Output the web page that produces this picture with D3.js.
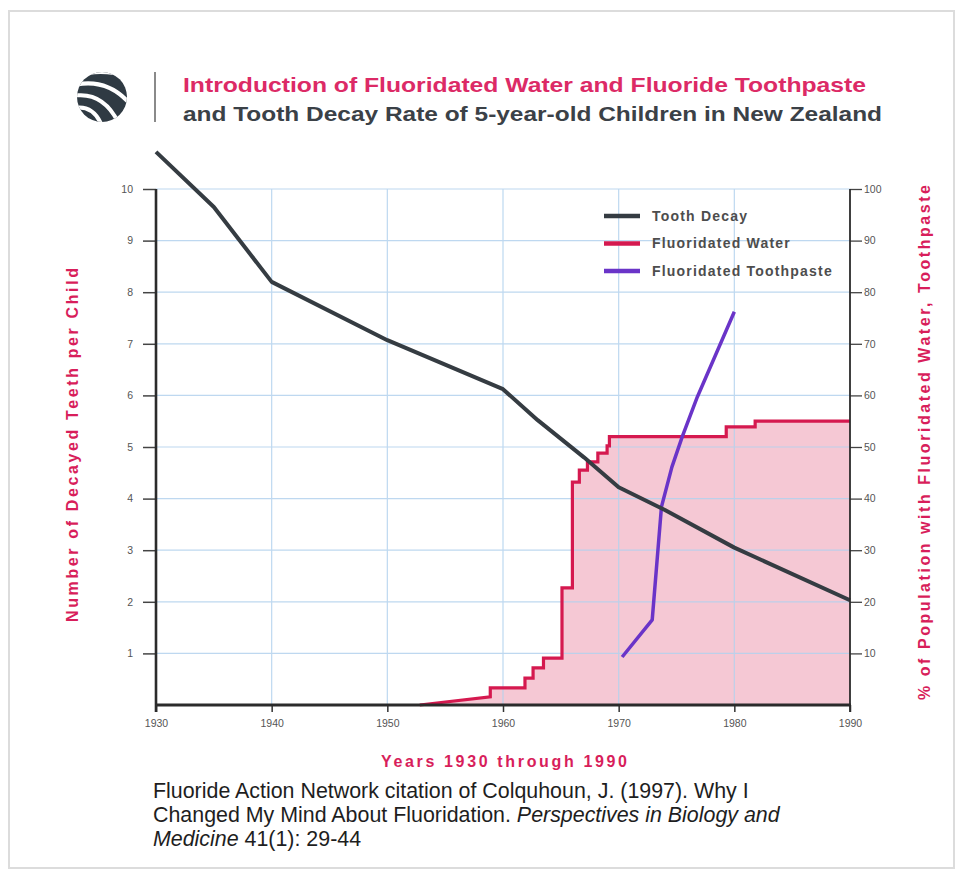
<!DOCTYPE html>
<html>
<head>
<meta charset="utf-8">
<script src="https://cdn.jsdelivr.net/npm/d3@7/dist/d3.min.js"></script>
<style>
  html, body { margin: 0; padding: 0; background: #fff; }
  svg { display: block; font-family: "Liberation Sans", Arial, Helvetica, sans-serif; }
</style>
</head>
<body>
<svg id="chart" width="963" height="876"></svg>
<script>
// ---- data ----
const decayYears = [1930, 1935, 1940, 1950, 1960, 1963, 1967, 1970, 1974, 1980, 1990];
const decayTeeth = [10.72, 9.65, 8.2, 7.07, 6.12, 5.52, 4.8, 4.22, 3.78, 3.05, 2.03];

// early gradual rise of fluoridated water coverage (percent)
const waterRampYears = [1952.8, 1958.9];
const waterRampPct = [0, 1.6];
// later step changes: year of the change and the new coverage (percent)
const waterStepYears = [1958.9, 1961.9, 1962.6, 1963.5, 1965.1, 1966.0, 1966.6, 1967.3, 1968.2, 1969.0, 1969.2, 1979.3, 1981.8];
const waterStepPct = [3.3, 5.2, 7.2, 9.1, 22.7, 43.2, 45.5, 47.1, 48.8, 50.2, 52.0, 53.9, 55.0];
const waterEndYear = 1990;

const pasteYears = [1970.3, 1972.9, 1973.7, 1974.6, 1975.5, 1976.8, 1980.0];
const pastePct = [9.3, 16.5, 38.4, 46.1, 52.0, 59.7, 76.2];

const xTicks = [1930, 1940, 1950, 1960, 1970, 1980, 1990];
const leftTicks = [1, 2, 3, 4, 5, 6, 7, 8, 9, 10];
const rightTicks = [10, 20, 30, 40, 50, 60, 70, 80, 90, 100];

const legendNames = ["Tooth Decay", "Fluoridated Water", "Fluoridated Toothpaste"];

// ---- styles ----
const pink = "#d81e5b";
const darkLine = "#353c42";
const redLine = "#d5194f";
const purple = "#6a34c8";
const fillPink = "#f5c8d4";
const gridBlue = "#b3d2ee";
const axisDark = "#2b2b2b";
const tickText = "#555";

const svg = d3.select("#chart");

// outer frame
svg.append("rect").attr("x", 9).attr("y", 11).attr("width", 945).attr("height", 857)
  .attr("fill", "none").attr("stroke", "#dcdcdc").attr("stroke-width", 2);

// ---- scales ----
const x = d3.scaleLinear().domain([1930, 1990]).range([156, 850]);
const yL = d3.scaleLinear().domain([0, 10]).range([705, 189]);
const yR = d3.scaleLinear().domain([0, 100]).range([705, 189]);

// ---- header: logo + title ----
const defs = svg.append("defs");
defs.append("clipPath").attr("id", "logoClip")
  .append("circle").attr("cx", 102).attr("cy", 97).attr("r", 25);
const lg = svg.append("g").attr("clip-path", "url(#logoClip)");
lg.append("rect").attr("x", 70).attr("y", 66).attr("width", 64).attr("height", 64).attr("fill", "#2f3a43");
// white gaps fanning out from the upper left of the globe
const swooshes = [
  "M70,78 Q100,66 132,78",
  "M70,86 Q106,76 130,104",
  "M72,96 Q104,90 120,126",
  "M74,108 Q96,104 104,132"
];
lg.selectAll("path.sw").data(swooshes).join("path")
  .attr("d", d => d).attr("fill", "none").attr("stroke", "#fff").attr("stroke-width", 4);
lg.append("path").attr("d", "M66,64 L90,64 L66,84 Z").attr("fill", "#fff");
lg.append("path").attr("d", "M66,132 L66,112 L84,132 Z").attr("fill", "#fff");

svg.append("line").attr("x1", 155).attr("x2", 155).attr("y1", 72).attr("y2", 122)
  .attr("stroke", "#8a8a8a").attr("stroke-width", 2);

svg.append("text").attr("x", 183).attr("y", 92)
  .attr("font-size", 21).attr("font-weight", "bold").attr("fill", "#dc2a66")
  .attr("textLength", 683).attr("lengthAdjust", "spacingAndGlyphs")
  .text("Introduction of Fluoridated Water and Fluoride Toothpaste");
svg.append("text").attr("x", 183).attr("y", 121)
  .attr("font-size", 21).attr("font-weight", "bold").attr("fill", "#3b4147")
  .attr("textLength", 699).attr("lengthAdjust", "spacingAndGlyphs")
  .text("and Tooth Decay Rate of 5-year-old Children in New Zealand");

// ---- fluoridated water area (under everything) ----
function waterPoints() {
  const pts = waterRampYears.map((yr, i) => [yr, waterRampPct[i]]);
  let prev = waterRampPct[waterRampPct.length - 1];
  waterStepYears.forEach((yr, i) => {
    pts.push([yr, prev]);
    pts.push([yr, waterStepPct[i]]);
    prev = waterStepPct[i];
  });
  pts.push([waterEndYear, prev]);
  return pts;
}
const wPts = waterPoints();

svg.append("path").datum(wPts)
  .attr("d", d3.area().x(d => x(d[0])).y0(yR(0)).y1(d => yR(d[1])))
  .attr("fill", fillPink);

// ---- grid ----
const grid = svg.append("g").attr("stroke", gridBlue).attr("stroke-width", 1.2).attr("opacity", 0.85);
grid.selectAll("line.h").data(leftTicks).join("line")
  .attr("x1", x(1930)).attr("x2", x(1990))
  .attr("y1", d => yL(d)).attr("y2", d => yL(d));
grid.selectAll("line.v").data(xTicks.slice(1, -1)).join("line")
  .attr("x1", d => x(d)).attr("x2", d => x(d))
  .attr("y1", yL(10)).attr("y2", yL(0));

// ---- axes ----
const axisFont = g => g.selectAll("text").attr("font-size", 10.5).attr("fill", tickText)
  .attr("font-family", "'Liberation Sans', Arial, sans-serif");

const leftAxis = svg.append("g").attr("transform", `translate(${x(1930)},0)`)
  .call(d3.axisLeft(yL).tickValues(leftTicks).tickSize(13).tickPadding(10).tickFormat(d3.format("d")));
leftAxis.select(".domain").remove();
leftAxis.selectAll(".tick line").attr("stroke", "#444").attr("stroke-width", 1.5);
leftAxis.call(axisFont);

const rightAxis = svg.append("g").attr("transform", `translate(${x(1990)},0)`)
  .call(d3.axisRight(yR).tickValues(rightTicks).tickSize(12).tickPadding(2).tickFormat(d3.format("d")));
rightAxis.select(".domain").remove();
rightAxis.selectAll(".tick line").attr("stroke", "#444").attr("stroke-width", 1.3);
rightAxis.call(axisFont);

const bottomAxis = svg.append("g").attr("transform", `translate(0,${yL(0)})`)
  .call(d3.axisBottom(x).tickValues(xTicks).tickSize(7).tickPadding(8).tickFormat(d3.format("d")));
bottomAxis.select(".domain").remove();
bottomAxis.selectAll(".tick line").attr("stroke", "#333").attr("stroke-width", 1.5);
bottomAxis.call(axisFont);

// ---- series lines ----
svg.append("path").datum(wPts)
  .attr("d", d3.line().x(d => x(d[0])).y(d => yR(d[1])))
  .attr("fill", "none").attr("stroke", redLine).attr("stroke-width", 3.2)
  .attr("stroke-linejoin", "miter");

svg.append("path").datum(pasteYears.map((yr, i) => [yr, pastePct[i]]))
  .attr("d", d3.line().x(d => x(d[0])).y(d => yR(d[1])))
  .attr("fill", "none").attr("stroke", purple).attr("stroke-width", 3.5)
  .attr("stroke-linejoin", "round");

svg.append("path").datum(decayYears.map((yr, i) => [yr, decayTeeth[i]]))
  .attr("d", d3.line().x(d => x(d[0])).y(d => yL(d[1])))
  .attr("fill", "none").attr("stroke", darkLine).attr("stroke-width", 4)
  .attr("stroke-linejoin", "round");

// axis lines drawn on top
svg.append("line").attr("x1", x(1930)).attr("x2", x(1930)).attr("y1", yL(10)).attr("y2", yL(0) + 7)
  .attr("stroke", axisDark).attr("stroke-width", 2.6);
svg.append("line").attr("x1", x(1990)).attr("x2", x(1990)).attr("y1", yR(100)).attr("y2", yR(0) + 7)
  .attr("stroke", axisDark).attr("stroke-width", 1.8);
svg.append("line").attr("x1", x(1930) - 1).attr("x2", x(1990) + 1).attr("y1", yL(0)).attr("y2", yL(0))
  .attr("stroke", axisDark).attr("stroke-width", 3);

// ---- legend ----
const legendColors = [darkLine, redLine, purple];
const legend = svg.append("g").attr("transform", "translate(604,216)");
const li = legend.selectAll("g").data(legendNames).join("g")
  .attr("transform", (d, i) => `translate(0,${i * 27.5})`);
li.append("line").attr("x1", 0).attr("x2", 36).attr("y1", 0).attr("y2", 0)
  .attr("stroke", (d, i) => legendColors[i]).attr("stroke-width", 4.5);
li.append("text").attr("x", 48).attr("y", 4.5)
  .attr("font-size", 14).attr("font-weight", "bold").attr("fill", "#4d4d4d")
  .attr("letter-spacing", 1.2)
  .text(d => d);

// ---- axis titles ----
svg.append("text")
  .attr("transform", `translate(78,${(268 + 622) / 2}) rotate(-90)`)
  .attr("text-anchor", "middle")
  .attr("font-size", 16).attr("font-weight", "bold").attr("fill", pink)
  .attr("textLength", 354).attr("lengthAdjust", "spacing")
  .text("Number of Decayed Teeth per Child");

svg.append("text")
  .attr("transform", `translate(930,${(185 + 700) / 2}) rotate(-90)`)
  .attr("text-anchor", "middle")
  .attr("font-size", 16).attr("font-weight", "bold").attr("fill", pink)
  .attr("textLength", 515).attr("lengthAdjust", "spacing")
  .text("% of Population with Fluoridated Water, Toothpaste");

svg.append("text")
  .attr("x", 504).attr("y", 767)
  .attr("text-anchor", "middle")
  .attr("font-size", 16).attr("font-weight", "bold").attr("fill", pink)
  .attr("textLength", 246).attr("lengthAdjust", "spacing")
  .text("Years 1930 through 1990");

// ---- citation ----
const cite = svg.append("g").attr("font-size", 21.4).attr("fill", "#1e1e1e");
cite.append("text").attr("x", 153).attr("y", 798)
  .text("Fluoride Action Network citation of Colquhoun, J. (1997). Why I");
const c2 = cite.append("text").attr("x", 153).attr("y", 822);
c2.append("tspan").text("Changed My Mind About Fluoridation. ");
c2.append("tspan").attr("font-style", "italic").text("Perspectives in Biology and");
const c3 = cite.append("text").attr("x", 153).attr("y", 846);
c3.append("tspan").attr("font-style", "italic").text("Medicine");
c3.append("tspan").text(" 41(1): 29-44");
</script>
</body>
</html>
